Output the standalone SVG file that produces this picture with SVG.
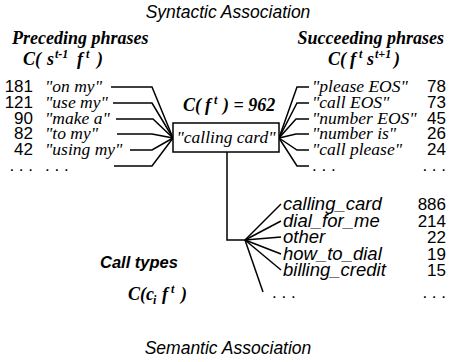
<svg xmlns="http://www.w3.org/2000/svg" width="452" height="362" viewBox="0 0 452 362">
  <style>
    .title { font-family: "Liberation Sans", Arial, sans-serif; font-style: italic; font-size: 17.5px; fill: #000; }
    .head { font-family: "Liberation Serif", "Times New Roman", serif; font-style: italic; font-weight: bold; font-size: 18px; fill: #000; }
    .formula { font-family: "Liberation Serif", "Times New Roman", serif; font-style: italic; font-weight: bold; font-size: 18px; fill: #000; }
    .sup { font-family: "Liberation Serif", "Times New Roman", serif; font-style: italic; font-weight: bold; font-size: 12px; fill: #000; }
    .phrase { font-family: "Liberation Serif", "Times New Roman", serif; font-style: italic; font-size: 17.5px; fill: #000; }
    .num { font-family: "Liberation Sans", Arial, sans-serif; font-size: 17px; fill: #000; }
    .ctype { font-family: "Liberation Sans", Arial, sans-serif; font-style: italic; font-size: 18.5px; fill: #000; }
    .label { font-family: "Liberation Sans", Arial, sans-serif; font-style: italic; font-weight: bold; font-size: 16.5px; fill: #000; }
    .line { fill: none; stroke: #000; stroke-width: 1.5; stroke-linejoin: miter; }
    .box { fill: #fff; stroke: #000; stroke-width: 1.5; }
  </style>

  <!-- section titles -->
  <text class="title" x="228" y="18" text-anchor="middle">Syntactic Association</text>
  <text class="title" x="228" y="354" text-anchor="middle">Semantic Association</text>

  <!-- column headings -->
  <g id="preceding-head">
    <text class="head" x="12" y="44">Preceding phrases</text>
    <text class="formula" x="23" y="65">C(</text>
    <text class="formula" x="47" y="65">s</text>
    <text class="sup" x="55" y="58">t-1</text>
    <text class="formula" x="77" y="65">f</text>
    <text class="sup" x="86" y="58">t</text>
    <text class="formula" x="97" y="65">)</text>
  </g>
  <g id="succeeding-head">
    <text class="head" x="444" y="44" text-anchor="end">Succeeding phrases</text>
    <text class="formula" x="328" y="65">C(</text>
    <text class="formula" x="350" y="65">f</text>
    <text class="sup" x="359" y="58">t</text>
    <text class="formula" x="367" y="65">s</text>
    <text class="sup" x="375" y="58">t+1</text>
    <text class="formula" x="394" y="65">)</text>
  </g>

  <!-- connectors -->
  <g id="connectors">
    <!-- preceding phrases into the focus phrase -->
    <polyline class="line" points="111,87 152,87 173,138"/>
    <polyline class="line" points="113,103 152,103 173,138"/>
    <polyline class="line" points="116,119 153,119 173,138"/>
    <polyline class="line" points="117,134 152,134 173,138"/>
    <polyline class="line" points="130,150 152,150 173,138"/>
    <polyline class="line" points="114,166 152,166 173,138"/>
    <!-- focus phrase out to succeeding phrases -->
    <polyline class="line" points="279,138 297,87 309,87"/>
    <polyline class="line" points="279,138 297,103 309,103"/>
    <polyline class="line" points="279,138 296,119 309,119"/>
    <polyline class="line" points="279,138 296,134 309,134"/>
    <polyline class="line" points="279,138 297,150 309,150"/>
    <polyline class="line" points="279,138 297,166 309,166"/>
    <!-- focus phrase down to call types -->
    <polyline class="line" points="227,152 227,240 245,240"/>
    <line class="line" x1="245" y1="240" x2="281" y2="204"/>
    <line class="line" x1="245" y1="240" x2="281" y2="221"/>
    <line class="line" x1="245" y1="240" x2="281" y2="237"/>
    <line class="line" x1="245" y1="240" x2="281" y2="254"/>
    <line class="line" x1="245" y1="240" x2="281" y2="270"/>
    <line class="line" x1="245" y1="240" x2="263" y2="292"/>
  </g>

  <!-- preceding phrases with counts -->
  <g id="preceding">
    <text class="num" x="33" y="92" text-anchor="end">181</text>
    <text class="phrase" x="45" y="92">"on my"</text>
    <text class="num" x="33" y="108" text-anchor="end">121</text>
    <text class="phrase" x="45" y="108">"use my"</text>
    <text class="num" x="33" y="124" text-anchor="end">90</text>
    <text class="phrase" x="45" y="124">"make a"</text>
    <text class="num" x="33" y="139" text-anchor="end">82</text>
    <text class="phrase" x="45" y="139">"to my"</text>
    <text class="num" x="33" y="155" text-anchor="end">42</text>
    <text class="phrase" x="45" y="155">"using my"</text>
    <text class="num" x="33" y="171" text-anchor="end">. . .</text>
    <text class="num" x="45" y="171">. . .</text>
  </g>

  <!-- focus phrase -->
  <g id="focus">
    <text class="formula" x="183" y="111">C(</text>
    <text class="formula" x="205" y="111">f</text>
    <text class="sup" x="214" y="104">t</text>
    <text class="formula" x="223" y="111">) = 962</text>
    <rect class="box" x="173" y="123" width="106" height="29"/>
    <text class="phrase" x="226" y="143" text-anchor="middle">"calling card"</text>
  </g>

  <!-- succeeding phrases with counts -->
  <g id="succeeding">
    <text class="phrase" x="312" y="92">"please EOS"</text>
    <text class="num" x="446" y="92" text-anchor="end">78</text>
    <text class="phrase" x="312" y="108">"call EOS"</text>
    <text class="num" x="446" y="108" text-anchor="end">73</text>
    <text class="phrase" x="312" y="124">"number EOS"</text>
    <text class="num" x="446" y="124" text-anchor="end">45</text>
    <text class="phrase" x="312" y="139">"number is"</text>
    <text class="num" x="446" y="139" text-anchor="end">26</text>
    <text class="phrase" x="312" y="155">"call please"</text>
    <text class="num" x="446" y="155" text-anchor="end">24</text>
    <text class="num" x="312" y="171">. . .</text>
    <text class="num" x="446" y="171" text-anchor="end">. . .</text>
  </g>

  <!-- call types with counts -->
  <g id="call-types">
    <text class="label" x="100" y="268">Call types</text>
    <text class="formula" x="128" y="300">C(c</text>
    <text class="sup" x="153" y="304">i</text>
    <text class="formula" x="162" y="300">f</text>
    <text class="sup" x="171" y="293">t</text>
    <text class="formula" x="181" y="300">)</text>
    <text class="ctype" x="283" y="210">calling_card</text>
    <text class="num" x="446" y="210" text-anchor="end">886</text>
    <text class="ctype" x="283" y="227">dial_for_me</text>
    <text class="num" x="446" y="227" text-anchor="end">214</text>
    <text class="ctype" x="283" y="243">other</text>
    <text class="num" x="446" y="243" text-anchor="end">22</text>
    <text class="ctype" x="283" y="260">how_to_dial</text>
    <text class="num" x="446" y="260" text-anchor="end">19</text>
    <text class="ctype" x="283" y="276">billing_credit</text>
    <text class="num" x="446" y="276" text-anchor="end">15</text>
    <text class="num" x="272" y="298">. . .</text>
    <text class="num" x="446" y="298" text-anchor="end">. . .</text>
  </g>
</svg>
